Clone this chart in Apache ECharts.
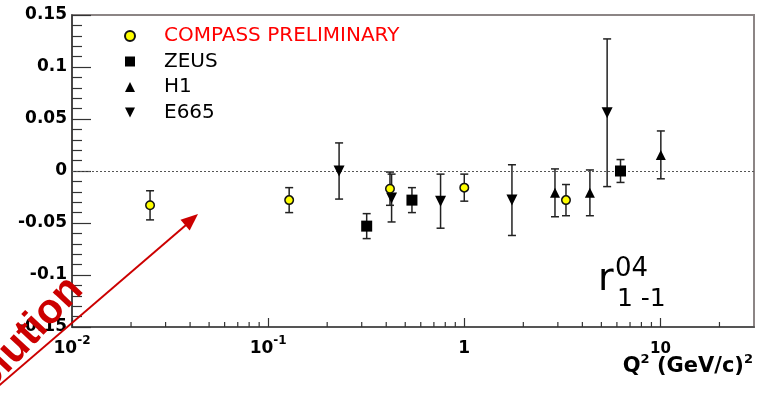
<!DOCTYPE html>
<html>
<head>
<meta charset="utf-8">
<script src="https://cdn.jsdelivr.net/npm/echarts@6/dist/echarts.min.js"></script>
<style>
  html, body { margin: 0; padding: 0; background: #fff; }
  #chart { width: 767px; height: 394px; }
</style>
</head>
<body>
<div id="chart"></div>
<script>
// r^04_{1-1} spin-density matrix element versus Q^2
const compassQ2  = [0.025, 0.128, 0.418, 1.0, 3.3];
const compassR   = [-0.033, -0.028, -0.017, -0.016, -0.028];
const compassErr = [0.014, 0.012, 0.016, 0.013, 0.015];

const zeusQ2  = [0.318, 0.541, 6.26];
const zeusR   = [-0.053, -0.028, 0.0];
const zeusErr = [0.012, 0.012, 0.011];

const h1Q2  = [2.9, 4.37, 10.05];
const h1R   = [-0.021, -0.021, 0.0155];
const h1Err = [0.023, 0.022, 0.023];

const e665Q2  = [0.23, 0.426, 0.757, 1.75, 5.35];
const e665R   = [0.0, -0.026, -0.029, -0.028, 0.056];
const e665Err = [0.027, 0.023, 0.026, 0.034, 0.071];

// minor ticks of the logarithmic Q^2 axis
const xMinorTicks = [0.02, 0.03, 0.04, 0.05, 0.06, 0.07, 0.08, 0.09,
                     0.2, 0.3, 0.4, 0.5, 0.6, 0.7, 0.8, 0.9,
                     2, 3, 4, 5, 6, 7, 8, 9, 20];

const Y_MIN = -0.15, Y_MAX = 0.15;
const INK = '#222';
const DOWN_TRIANGLE = 'path://M0,0L10,0L5,10Z';

function points(xs, ys) { return xs.map((x, i) => [x, ys[i]]); }
function withErr(xs, ys, es) { return xs.map((x, i) => [x, ys[i], es[i]]); }

function renderErrorBar(params, api) {
  const x = api.value(0), y = api.value(1), e = api.value(2);
  const hi = api.coord([x, y + e]);
  const lo = api.coord([x, y - e]);
  const cap = 4;
  const st = { stroke: INK, lineWidth: 1.5 };
  return {
    type: 'group',
    children: [
      { type: 'line', shape: { x1: hi[0], y1: hi[1], x2: lo[0], y2: lo[1] }, style: st },
      { type: 'line', shape: { x1: hi[0] - cap, y1: hi[1], x2: hi[0] + cap, y2: hi[1] }, style: st },
      { type: 'line', shape: { x1: lo[0] - cap, y1: lo[1], x2: lo[0] + cap, y2: lo[1] }, style: st }
    ]
  };
}

function errorSeries(name, xs, ys, es) {
  return {
    name: name, type: 'custom', silent: true, z: 3,
    renderItem: renderErrorBar,
    encode: { x: 0, y: 1 },
    data: withErr(xs, ys, es)
  };
}

function xLabel(v) {
  const e = Math.round(Math.log10(v));
  const p = Math.pow(10, e);
  if (Math.abs(v - p) > 1e-6 * p) return '';
  if (e === 0) return '{b|1}';
  if (e === 1) return '{t|10}';
  return '{b|10}{s|' + e + '}';
}

const tickFont = { fontFamily: 'DejaVu Sans', fontWeight: 'bold', color: '#000' };

const chart = echarts.init(document.getElementById('chart'), null, { renderer: 'canvas' });

chart.setOption({
  animation: false,
  backgroundColor: '#fff',
  grid: {
    left: 72, right: 13, top: 15, bottom: 67,
    show: true, borderColor: '#8c8585', borderWidth: 2, backgroundColor: 'transparent'
  },
  xAxis: {
    type: 'log', logBase: 10, min: 0.01, max: 30,
    axisLine: { show: true, onZero: false, lineStyle: { color: '#555', width: 2 } },
    axisTick: { show: true, inside: true, length: 9, lineStyle: { color: '#333', width: 1.2 } },
    splitLine: { show: false },
    axisLabel: {
      margin: 8, showMaxLabel: false, formatter: xLabel,
      rich: {
        b: Object.assign({ fontSize: 17, lineHeight: 28 }, tickFont),
        t: Object.assign({ fontSize: 15, lineHeight: 28 }, tickFont),
        s: Object.assign({ fontSize: 12, lineHeight: 12, verticalAlign: 'top' }, tickFont)
      }
    }
  },
  yAxis: {
    type: 'value', min: Y_MIN, max: Y_MAX, interval: 0.05,
    axisLine: { show: true, onZero: false, lineStyle: { color: '#333', width: 1.5 } },
    axisTick: { show: true, inside: true, length: 19, lineStyle: { color: '#333', width: 1.2 } },
    minorTick: { show: true, splitNumber: 5, length: 10, lineStyle: { color: '#333', width: 1.2 } },
    splitLine: { show: false },
    axisLabel: Object.assign({ margin: 5, fontSize: 17 }, tickFont)
  },
  legend: {
    orient: 'vertical', left: 124, top: 26, padding: 0, itemGap: 5.5,
    itemWidth: 10, itemHeight: 10, selectedMode: false,
    data: [
      { name: 'COMPASS PRELIMINARY', textStyle: { color: '#ff0000' } },
      'ZEUS', 'H1',
      { name: 'E665', icon: DOWN_TRIANGLE }
    ],
    formatter: n => '{p| }' + n,
    textStyle: {
      fontFamily: 'DejaVu Sans', fontSize: 20, lineHeight: 20, color: '#000',
      rich: { p: { width: 24 } }
    }
  },
  series: [
    // zero reference line
    {
      type: 'line', data: [], silent: true,
      markLine: {
        silent: true, symbol: 'none', label: { show: false },
        lineStyle: { color: '#555', width: 1, type: [2, 2] },
        data: [{ yAxis: 0 }]
      }
    },
    // minor ticks on the log axis
    {
      type: 'custom', silent: true, z: 4,
      data: xMinorTicks.map(v => [v, Y_MIN]),
      encode: { x: 0, y: 1 },
      renderItem: function (params, api) {
        const p = api.coord([api.value(0), Y_MIN]);
        return { type: 'line', shape: { x1: p[0], y1: p[1], x2: p[0], y2: p[1] - 5 },
                 style: { stroke: '#333', lineWidth: 1.2 } };
      }
    },
    errorSeries('E665 err', e665Q2, e665R, e665Err),
    errorSeries('H1 err', h1Q2, h1R, h1Err),
    errorSeries('ZEUS err', zeusQ2, zeusR, zeusErr),
    errorSeries('COMPASS err', compassQ2, compassR, compassErr),
    {
      name: 'E665', type: 'scatter', z: 5, symbol: 'triangle', symbolRotate: 180, symbolSize: 11,
      itemStyle: { color: '#000', opacity: 1 }, emphasis: { disabled: true },
      data: points(e665Q2, e665R)
    },
    {
      name: 'H1', type: 'scatter', z: 5, symbol: 'triangle', symbolSize: 10,
      itemStyle: { color: '#000', opacity: 1 }, emphasis: { disabled: true },
      data: points(h1Q2, h1R)
    },
    {
      name: 'ZEUS', type: 'scatter', z: 5, symbol: 'rect', symbolSize: 11,
      itemStyle: { color: '#000', opacity: 1 }, emphasis: { disabled: true },
      data: points(zeusQ2, zeusR)
    },
    {
      name: 'COMPASS PRELIMINARY', type: 'scatter', z: 6, symbol: 'circle', symbolSize: 8.5,
      itemStyle: { color: '#ffff00', borderColor: '#111', borderWidth: 1.5, opacity: 1 },
      emphasis: { disabled: true },
      data: points(compassQ2, compassR)
    }
  ],
  graphic: [
    // r^04_{1 -1}
    { type: 'text', x: 598, y: 280, z: 10, style: { text: 'r', font: '38px "DejaVu Sans"', fill: '#000', align: 'left', verticalAlign: 'middle' } },
    { type: 'text', x: 615, y: 269, z: 10, style: { text: '04', font: '26px "DejaVu Sans"', fill: '#000', align: 'left', verticalAlign: 'middle' } },
    { type: 'text', x: 617, y: 299, z: 10, style: { text: '1 -1', font: '25px "DejaVu Sans"', fill: '#000', align: 'left', verticalAlign: 'middle' } },
    // axis title
    {
      type: 'text', x: 753, y: 367, z: 10,
      style: {
        text: '{b|Q}{s|2}{b| (GeV/c)}{s|2}', align: 'right', verticalAlign: 'middle',
        rich: {
          b: { fontFamily: 'DejaVu Sans', fontWeight: 'bold', fontSize: 21, lineHeight: 28, fill: '#000' },
          s: { fontFamily: 'DejaVu Sans', fontWeight: 'bold', fontSize: 13, lineHeight: 13, verticalAlign: 'top', fill: '#000' }
        }
      }
    },
    // red arrow overlay
    { type: 'line', z: 20, shape: { x1: -12, y1: 395, x2: 186, y2: 225 }, style: { stroke: '#cc0000', lineWidth: 2 } },
    { type: 'polygon', z: 20, shape: { points: [[198, 214], [189.7, 230.4], [180.5, 219.8]] }, style: { fill: '#cc0000' } },
    {
      type: 'text', z: 20, x: 76, y: 283, rotation: 47 * Math.PI / 180,
      style: { text: 'evolution', font: 'bold 42px "Liberation Sans"', fill: '#cc0000', align: 'right', verticalAlign: 'middle' }
    }
  ]
});
</script>
</body>
</html>
